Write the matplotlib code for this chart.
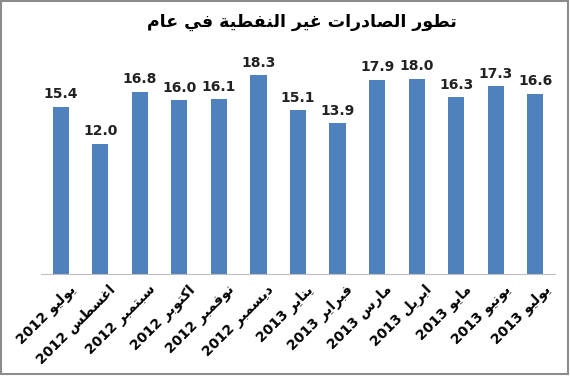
# Bar chart: non-oil exports by month (Arabic labels)
import matplotlib
matplotlib.use("Agg")
import matplotlib.pyplot as plt
import matplotlib.transforms as mtransforms
from matplotlib.patches import Rectangle
import numpy as np

title = "تطور الصادرات غير النفطية في عام"
months = ["يوليو 2012", "اغسطس 2012", "سبتمبر 2012", "اكتوبر 2012", "نوفمبر 2012",
          "ديسمبر 2012", "يناير 2013", "فبراير 2013", "مارس 2013", "ابريل 2013",
          "مايو 2013", "يونيو 2013", "يوليو 2013"]
values = [15.4, 12.0, 16.8, 16.0, 16.1, 18.3, 15.1, 13.9, 17.9, 18.0, 16.3, 17.3, 16.6]

# presentation forms: (isolated, final, initial, medial); right-joining letters have only 2
FORMS = {
    "ا": (0xFE8D, 0xFE8E), "ب": (0xFE8F, 0xFE90, 0xFE91, 0xFE92),
    "ة": (0xFE93, 0xFE94), "ت": (0xFE95, 0xFE96, 0xFE97, 0xFE98),
    "د": (0xFEA9, 0xFEAA), "ر": (0xFEAD, 0xFEAE),
    "س": (0xFEB1, 0xFEB2, 0xFEB3, 0xFEB4), "ص": (0xFEB9, 0xFEBA, 0xFEBB, 0xFEBC),
    "ط": (0xFEC1, 0xFEC2, 0xFEC3, 0xFEC4), "ع": (0xFEC9, 0xFECA, 0xFECB, 0xFECC),
    "غ": (0xFECD, 0xFECE, 0xFECF, 0xFED0), "ف": (0xFED1, 0xFED2, 0xFED3, 0xFED4),
    "ك": (0xFED9, 0xFEDA, 0xFEDB, 0xFEDC), "ل": (0xFEDD, 0xFEDE, 0xFEDF, 0xFEE0),
    "م": (0xFEE1, 0xFEE2, 0xFEE3, 0xFEE4), "ن": (0xFEE5, 0xFEE6, 0xFEE7, 0xFEE8),
    "و": (0xFEED, 0xFEEE), "ي": (0xFEF1, 0xFEF2, 0xFEF3, 0xFEF4),
}


def shape_word(word):
    out = []
    for i, ch in enumerate(word):
        if ch not in FORMS:
            out.append(ch)
            continue
        prev = word[i - 1] if i > 0 else None
        nxt = word[i + 1] if i + 1 < len(word) else None
        join_prev = prev in FORMS and len(FORMS[prev]) == 4
        join_next = nxt in FORMS and len(FORMS[ch]) == 4
        f = FORMS[ch]
        if join_prev and join_next:
            code = f[3]
        elif join_prev:
            code = f[1]
        elif join_next:
            code = f[2]
        else:
            code = f[0]
        out.append(chr(code))
    return "".join(out)


def rtl(text):
    # shape each word, then lay the words out right to left
    words = []
    for w in text.split(" "):
        if any(c in FORMS for c in w):
            words.append(shape_word(w)[::-1])
        else:
            words.append(w)
    return " ".join(words[::-1])


fig = plt.figure(figsize=(5.7, 3.77), dpi=100)
ax = fig.add_axes([41 / 570, 1 - 274 / 377, 514 / 570, 217 / 377])

x = np.arange(len(values))
bars = ax.bar(x, values, width=0.41, color="#4F81BD")
ax.set_xlim(-0.5, len(values) - 0.5)
ax.set_ylim(0, 20)

for xi, v in zip(x, values):
    ax.text(xi, v + 0.5, f"{v:.1f}", ha="center", va="bottom",
            fontsize=10, fontweight="bold", color="#222222")

ax.set_xticks(x)
ax.set_xticklabels([rtl(m) for m in months], rotation=45, ha="right",
                   rotation_mode="anchor", fontsize=10, fontweight="bold")
ax.tick_params(axis="x", length=0, pad=6)
shift = mtransforms.ScaledTranslation(8 / 100, 0, fig.dpi_scale_trans)
for lbl in ax.get_xticklabels():
    lbl.set_transform(lbl.get_transform() + shift)
ax.set_yticks([])
for s in ["left", "right", "top"]:
    ax.spines[s].set_visible(False)
ax.spines["bottom"].set_color("#bfbfbf")

fig.text(302 / 570, 1 - 22 / 377, rtl(title), ha="center", va="center",
         fontsize=12.5, fontweight="bold")

# grey frame around the chart
fig.add_artist(Rectangle((1 / 570, 3 / 377), 567 / 570, 373 / 377,
                         transform=fig.transFigure, fill=False,
                         edgecolor="#8c8c8c", lw=1.5))

plt.savefig("out.png", dpi=100)
plt.close()
